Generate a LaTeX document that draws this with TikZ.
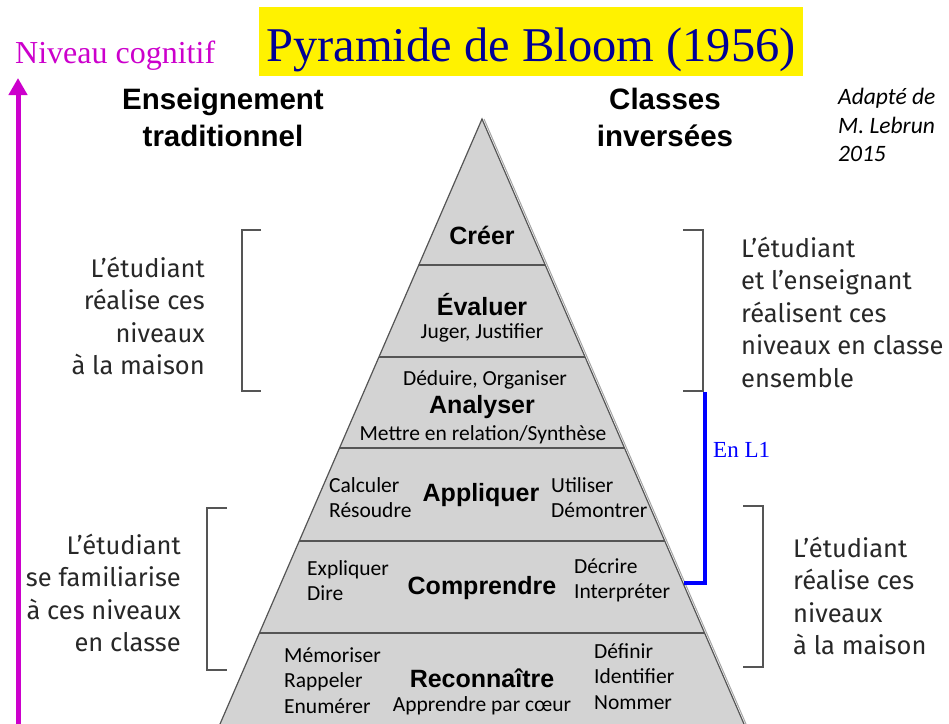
\documentclass[tikz,border=0pt]{standalone}
\usepackage{fontspec}
\setmainfont{Liberation Serif}
\newfontfamily\calibri{Carlito}
\newfontfamily\din{Fira Sans}
\newfontfamily\arialb{Liberation Sans}
\usetikzlibrary{arrows.meta}
\usetikzlibrary{calc}

\definecolor{pyrgray}{RGB}{211,211,211}
\definecolor{edgegray}{RGB}{85,85,85}
\definecolor{txtgray}{RGB}{40,40,40}
\definecolor{titleblue}{RGB}{0,0,150}
\definecolor{niveau}{RGB}{204,0,204}

\begin{document}
\begin{tikzpicture}
[x=1pt,y=-1pt,>={Triangle[length=17pt,width=18pt]},every node/.style={inner sep=0pt},
 side/.style={font=\din\fontsize{25.5}{32.5}\selectfont,text=txtgray},
 verb/.style={font=\calibri\fontsize{21.5}{25}\selectfont,align=left,anchor=west},
 level/.style={font=\arialb\bfseries\fontsize{25}{30}\selectfont},
 head/.style={font=\arialb\bfseries\fontsize{29.5}{37}\selectfont,align=center},
 bracket/.style={draw=edgegray,line width=1.2pt}]

\useasboundingbox (0,0) rectangle (949,723);
\clip (0,0) rectangle (949,723);

%title
\node[fill=yellow,minimum width=544pt,minimum height=69pt] (title) at (531,41.5) {};
\node[anchor=base,text=titleblue,font=\fontsize{48.5}{56}\selectfont] (titletext) at (531,61) {Pyramide de Bloom (1956)};

%axis
\node[anchor=base west,text=niveau,font=\fontsize{32}{36}\selectfont] (niv) at (15,63) {Niveau cognitif};
\coordinate (axisbot) at (18,730);
\coordinate (axistop) at (18,78);
\draw[->,niveau,line width=5pt] (axisbot) -- (axistop);

\node[head] (trad) at (223,117) {Enseignement\\traditionnel};
\node[head] (inv) at (665,117) {Classes\\invers\'ees};
\node[anchor=west,align=left,font=\calibri\itshape\fontsize{23.5}{28.5}\selectfont] (src) at (838,125) {Adapt\'e de\\M. Lebrun\\2015};

%pyramid
\coordinate (apex) at (482,119);
\coordinate (bl) at (217.4,730);
\coordinate (br) at (746.6,730);
\fill[pyrgray] (apex) -- (bl) -- (br) -- cycle;
\draw[gray!70,line width=1pt] ([xshift=2pt]apex) -- ([xshift=2pt]br);
\draw[edgegray,line width=1.2pt] (bl) -- (apex) -- (br);
\foreach \y in {265,357,448,541,633}
\draw[edgegray,line width=1.2pt] ({482-0.433*(\y-119)},\y) -- ({482+0.433*(\y-119)},\y);

\node[level] (creer) at (482,235) {Cr\'eer};
\node[level] (evaluer) at (482,305) {\'Evaluer};
\node[verb,anchor=center] (juger) at (482,333) {Juger, Justifier};
\node[verb,anchor=center] (deduire) at (485,380) {D\'eduire, Organiser};
\node[level] (analyser) at (482,407) {Analyser};
\node[verb,anchor=center] (mettre) at (483,435) {Mettre en relation/Synth\`ese};
\node[verb] (calc) at (329,498) {Calculer\\R\'esoudre};
\node[level] (appliquer) at (481,495) {Appliquer};
\node[verb] (util) at (551,498) {Utiliser\\D\'emontrer};
\node[verb] (expl) at (307,580.5) {Expliquer\\Dire};
\node[level] (comprendre) at (482,588) {Comprendre};
\node[verb] (decr) at (574,580.5) {D\'ecrire\\Interpr\'eter};
\node[verb,font=\calibri\fontsize{21.5}{25.5}\selectfont] (memo) at (284,680.5) {M\'emoriser\\Rappeler\\Enum\'erer};
\node[level] (reco) at (482,678) {Reconna\^itre};
\node[verb,anchor=center] (coeur) at (482,706) {Apprendre par c\oe ur};
\node[verb,font=\calibri\fontsize{21.5}{25.5}\selectfont] (defi) at (594,676.5) {D\'efinir\\Identifier\\Nommer};

%brackets
\foreach \xa/\xb/\ya/\yb in {261/242/230/391,683/703/230/391,227/207/508/670,743/763/506/667}
\draw[bracket] (\xa,\ya) -- (\xb,\ya) -- (\xb,\yb) -- (\xa,\yb);

\node[side,anchor=east,align=right] (maison1) at (205,316) {L’\'etudiant\\r\'ealise ces\\niveaux\\\`a la maison};
\node[side,anchor=west,align=left] (ensemble) at (741,312) {L’\'etudiant\\et l’enseignant\\r\'ealisent ces\\niveaux en classe\\ensemble};
\node[side,anchor=east,align=right] (classe) at (181,593) {L’\'etudiant\\se familiarise\\\`a ces niveaux\\en classe};
\node[side,anchor=west,align=left] (maison2) at (793,596) {L’\'etudiant\\r\'ealise ces\\niveaux\\\`a la maison};

%L1
\coordinate (l1top) at (705,392);
\coordinate (l1bot) at (684,583);
\draw[blue,line width=4pt] (l1top) |- (l1bot);
\node[anchor=west,text=blue,font=\fontsize{23}{28}\selectfont] (enl) at (713,450) {En L1};

\end{tikzpicture}
\end{document}
